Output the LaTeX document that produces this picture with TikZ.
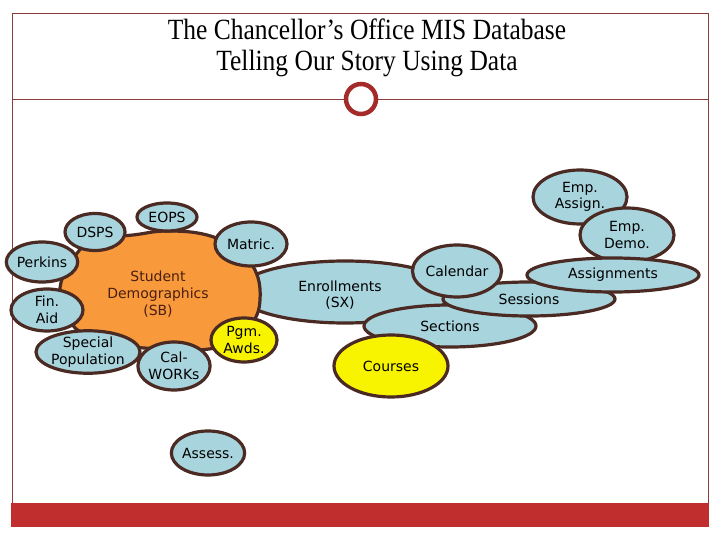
\documentclass[tikz,border=0pt]{standalone}
\usepackage{fontspec}
\setmainfont{Liberation Serif}
\newfontfamily\lblfont{DejaVu Sans}
\usetikzlibrary{shapes.geometric}
\definecolor{framec}{HTML}{8E3B3B}
\definecolor{barc}{HTML}{C02E2E}
\definecolor{ringc}{HTML}{A52A2A}
\definecolor{edgec}{HTML}{4A2A22}
\definecolor{bluef}{HTML}{A8D4DE}
\definecolor{yelf}{HTML}{F8F400}
\definecolor{orf}{HTML}{F89A3C}
\definecolor{sbtext}{HTML}{4A1E10}
\tikzset{
  bub/.style={ellipse, draw=edgec, line width=3.2pt, fill=bluef, inner sep=0pt,
    font=\lblfont\fontsize{14}{16.5}\selectfont, align=center, text=black},
  ybub/.style={bub, fill=yelf},
  frameline/.style={draw=framec, line width=0.9pt},
}
\begin{document}
\begin{tikzpicture}[x=1pt,y=-1pt]
\useasboundingbox (0,0) rectangle (720,540);
% frame
\draw[frameline] (12,13) rectangle (708,503);
\fill[barc] (11,503) rectangle (709,527);
\coordinate (hlL) at (12,99);
\coordinate (hlR) at (708,99);
\node[circle, draw=ringc, line width=4.5pt, minimum size=30pt, inner sep=0pt, fill=white] (ring) at (361,99) {};
\draw[frameline] (hlL) -- (ring.west);
\draw[frameline] (ring.east) -- (hlR);
% title
\node[font=\fontsize{25.5}{26}\selectfont, align=center] (title) at (367,48)
  {\scalebox{1}[1.15]{The Chancellor's Office MIS Database}\\[5pt]\scalebox{1}[1.15]{Telling Our Story Using Data}};
% right cluster
\node[bub, minimum width=216pt, minimum height=62pt] (enr) at (345,292) {};
\node[bub, minimum width=172pt, minimum height=42pt] (sect) at (450,326) {Sections};
\node[ybub, minimum width=114pt, minimum height=62pt] (courses) at (391,366) {Courses};
\node[bub, minimum width=172pt, minimum height=34pt] (sess) at (529,299) {Sessions};
\node[bub, minimum width=88pt, minimum height=52pt] (cal) at (457,271) {Calendar};
\node[bub, minimum width=94pt, minimum height=54pt] (empa) at (580,197) {Emp.\\Assign.};
\node[bub, minimum width=94pt, minimum height=54pt] (empd) at (627,235) {Emp.\\Demo.};
\node[bub, minimum width=172pt, minimum height=34pt] (asg) at (613,275) {Assignments};
% student blob
\draw[edgec, line width=3.2pt, fill=orf] plot[smooth cycle, tension=0.7] coordinates {
 (60,288) (75,256) (96,239) (133,235) (167,231) (207,235) (235,249) (255,270)
 (260,300) (252,324) (234,342) (200,350) (160,349) (120,345) (86,335) (68,318)};
\node[bub, draw=none, fill=none, minimum width=216pt, minimum height=62pt] (enrt) at (340,295) {Enrollments\\(SX)};
\node[font=\lblfont\fontsize{14}{17}\selectfont, align=center, text=sbtext] (sb) at (158,294)
  {Student\\Demographics\\(SB)};
% satellites
\node[bub, minimum width=60pt, minimum height=37pt] (dsps) at (95,232) {DSPS};
\node[bub, minimum width=60pt, minimum height=28pt] (eops) at (167,217) {EOPS};
\node[bub, minimum width=72pt, minimum height=44pt] (matric) at (251,244) {Matric.};
\node[bub, minimum width=66pt, minimum height=40pt] (perkins) at (42,262) {Perkins};
\node[bub, minimum width=72pt, minimum height=42pt] (fin) at (47,310) {Fin.\\Aid};
\node[bub, minimum width=90pt, minimum height=38pt] (spec) at (88,352) {Special\\Population};
\node[bub, minimum width=60pt, minimum height=48pt] (cal2) at (174,366) {Cal-\\WORKs};
\node[ybub, minimum width=66pt, minimum height=44pt] (pgm) at (244,340) {Pgm.\\Awds.};
\node[bub, minimum width=72pt, minimum height=44pt] (assess) at (208,453) {Assess.};
\end{tikzpicture}
\end{document}
